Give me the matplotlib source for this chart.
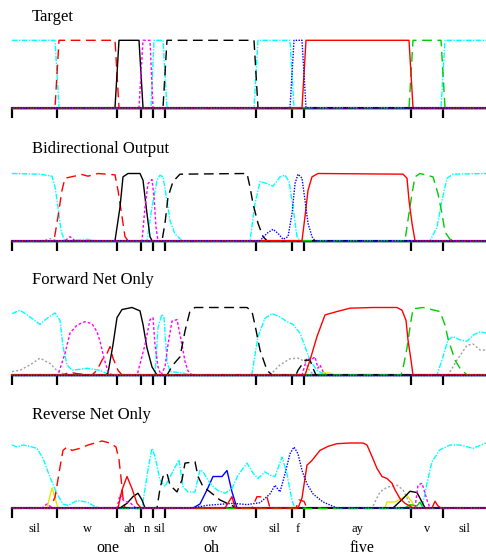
import matplotlib.pyplot as plt

plt.rcParams['font.family'] = ['Liberation Serif', 'DejaVu Serif']

T_END = 474

phone_bounds = [0, 45, 105, 129, 141, 153, 244, 280, 292, 399, 431, 474]
phone_labels = ['sil', 'w', 'ah', 'n', 'sil', 'ow', 'sil', 'f', 'ay', 'v', 'sil']
word_labels = ['one', 'oh', 'five']
word_pos = [96, 199.5, 350]

# knots (frame, activation); anything not listed is 0
# --- target
tgt_sil = [(0, 1), (43, 1), (47, 0), (139, 0), (142, 1), (151, 1), (155, 0),
           (242, 0), (246, 1), (278, 1), (282, 0), (429, 0), (433, 1), (474, 1)]
tgt_w = [(43, 0), (47, 1), (103, 1), (107, 0)]
tgt_ah = [(103, 0), (107, 1), (127, 1), (131, 0)]
tgt_n = [(127, 0), (131, 1), (138, 1), (141, 0)]
tgt_ow = [(151, 0), (155, 1), (242, 1), (246, 0)]
tgt_f = [(278, 0), (282, 1), (290, 1), (294, 0)]
tgt_ay = [(290, 0), (294, 1), (397, 1), (401, 0)]
tgt_v = [(397, 0), (401, 1), (429, 1), (433, 0)]

# --- bidirectional
bi_sil = [(0, 1.0), (28, .99), (40, .96), (43, .8), (46, .5), (49, .15), (52, .02),
          (56, 0), (75, .02), (85, 0), (135, 0), (140, .5), (145, .9), (148, .975),
          (151, .95), (155, .6), (158, .3), (163, .1), (170, 0), (238, 0), (243, .55),
          (248, .88), (255, .85), (261, .81), (268, .95), (273, .975), (277, .88),
          (281, .5), (285, .06), (288, 0), (418, 0), (425, .2), (430, .6), (435, .93),
          (441, .99), (474, 1.0)]
bi_w = [(42, 0), (46, .36), (50, .75), (53, .93), (70, .985), (76, .96), (86, 1.0),
        (103, .98), (106, .75), (110, .36), (113, .06), (116, 0)]
bi_ah = [(103, 0), (108, .5), (111, .95), (116, 1.0), (128, 1.0), (131, .9),
         (135, .4), (138, .06), (140, 0)]
bi_n = [(53, 0), (58, .06), (63, 0), (130, 0), (133, .5), (136, .85), (140, .91),
        (142, .65), (144, .2), (146, 0)]
bi_ow = [(150, 0), (153, .26), (156, .65), (161, .88), (168, .99), (235, 1.0),
         (238, .8), (241, .55), (246, .26), (251, .06), (255, 0)]
bi_f = [(248, 0), (255, .11), (261, .17), (266, .11), (271, .02), (276, .06),
        (280, .4), (283, .85), (286, .99), (290, .93), (293, .6), (296, .26),
        (300, .06), (303, 0)]
bi_ay = [(290, 0), (293, .36), (296, .75), (300, .95), (306, 1.0), (391, .99),
         (395, .93), (397, .6), (400, .26), (403, 0)]
bi_v = [(393, 0), (396, .31), (400, .7), (403, .95), (408, 1.0), (421, .95),
        (426, .7), (430, .4), (433, .13), (438, .02), (445, 0)]
bi_gray = [(30, 0), (38, .03), (45, 0)]

# --- forward net
fw_sil = [(0, .91), (8, .96), (18, .86), (28, .75), (35, .84), (43, .92), (48, .81),
          (51, .42), (55, .15), (60, .07), (75, .1), (88, .07), (95, .02), (100, 0),
          (143, 0), (146, .7), (150, .9), (152, .85), (155, .2), (158, .05), (171, .03),
          (178, 0), (238, 0), (240, .02), (246, .57), (253, .84), (260, .91), (268, .86),
          (275, .79), (281, .75), (288, .62), (293, .42), (298, .22), (305, .07),
          (313, 0), (425, 0), (431, .27), (436, .52), (441, .57), (448, .52),
          (455, .5), (461, .59), (468, .64), (474, .62)]
fw_gray = [(0, .05), (8, .07), (18, .15), (28, .25), (38, .17), (46, .05), (55, 0),
           (258, 0), (268, .15), (278, .24), (286, .25), (293, .2), (298, .05),
           (303, 0), (436, 0), (445, .22), (455, .44), (461, .46), (468, .37),
           (474, .37)]
fw_n = [(46, 0), (53, .32), (58, .62), (65, .74), (73, .79), (80, .76), (85, .64),
        (88, .5), (92, .25), (96, .05), (100, 0), (125, 0), (126, .05), (133, .45),
        (138, .82), (141, .85), (143, .45), (146, .12), (149, 0), (153, .12),
        (156, .45), (160, .8), (165, .82), (170, .45), (173, .2), (176, .06), (180, 0),
        (290, 0), (295, .25), (299, .22), (303, .27), (306, .1), (308, .15),
        (311, .05), (314, 0)]
fw_ah = [(94, 0), (96, .03), (101, .45), (105, .85), (110, .97), (120, 1.0),
         (128, .95), (131, .75), (135, .4), (140, .12), (145, 0)]
fw_w = [(50, 0), (58, .04), (65, .02), (80, 0), (85, .07), (90, .22), (95, .32),
        (98, .42), (101, .25), (106, .07), (110, 0)]
fw_ow = [(155, 0), (161, .15), (168, .27), (173, .65), (178, .95), (183, 1.0),
         (235, 1.0), (240, .94), (243, .74), (248, .37), (255, .07), (260, 0),
         (284, 0), (286, .07), (293, .22), (298, .22), (301, .1), (304, 0)]
fw_ay = [(293, 0), (298, .22), (305, .57), (313, .89), (325, .94), (338, .99),
         (361, 1.0), (385, 1.0), (390, .96), (394, .81), (396, .52), (399, .22),
         (401, 0)]
fw_v = [(389, 0), (391, .1), (395, .4), (398, .71), (401, .98), (411, 1.0),
        (428, .94), (433, .74), (436, .54), (443, .22), (448, .1), (455, 0)]
fw_yellow = [(305, 0), (310, .03), (318, .03), (322, 0)]

# --- reverse net
rv_sil = [(0, .94), (5, .91), (11, .94), (18, .92), (25, .89), (31, .74), (38, .46),
          (45, .21), (51, .06), (56, .04), (65, .11), (75, .09), (83, .02), (88, 0),
          (130, 0), (136, .57), (140, .89), (143, .77), (148, .42), (153, .32),
          (160, .52), (167, .72), (171, .32), (176, .24), (183, .24), (188, .57),
          (191, .54), (198, .37), (205, .27), (213, .22), (220, .29), (226, .49),
          (235, .67), (241, .52), (246, .44), (253, .54), (258, .49), (263, .47),
          (270, .76), (275, .51), (280, .11), (283, 0), (410, 0), (415, .37),
          (420, .69), (428, .87), (438, .94), (448, .94), (461, .89), (474, .97)]
rv_w = [(38, 0), (43, .16), (48, .61), (51, .86), (55, .91), (60, .86), (68, .89),
        (76, .94), (83, .97), (90, 1.0), (98, .97), (104, .91), (107, .72),
        (109, .45), (111, .15), (113, 0), (240, 0), (245, .17), (255, .16), (258, 0),
        (284, 0), (287, .12), (292, .1), (295, 0)]
rv_ay = [(106, 0), (110, .27), (115, .47), (120, .29), (125, .07), (129, 0),
         (213, 0), (220, .17), (223, 0), (286, 0), (290, .15), (295, .64), (300, .71),
         (308, .86), (316, .92), (325, .96), (338, .97), (351, .97), (355, .94),
         (360, .77), (365, .59), (370, .47), (375, .44), (380, .37), (383, .27),
         (388, .14), (393, .07), (401, 0), (420, 0), (423, .1), (426, .03), (429, 0)]
rv_ah = [(108, 0), (115, .07), (121, .17), (126, .22), (130, .12), (133, 0),
         (381, 0), (391, .14), (398, .25), (405, .23), (410, .09), (413, 0)]
rv_ow = [(145, 0), (148, .29), (151, .47), (155, .52), (158, .34), (165, .24),
         (170, .42), (173, .67), (183, .69), (186, .47), (191, .32), (198, .24),
         (208, .12), (218, .05), (225, 0)]
rv_f = [(180, 0), (195, .04), (221, .07), (235, .05), (248, .08), (258, .21),
        (263, .34), (268, .24), (273, .51), (278, .81), (282, .91), (286, .81),
        (290, .56), (295, .36), (301, .21), (311, .09), (325, 0)]
rv_blue = [(181, 0), (188, .06), (195, .27), (201, .47), (210, .47), (215, .56),
           (220, .24), (225, 0)]
rv_gray = [(360, 0), (368, .24), (375, .31), (385, .34), (391, .27), (396, .12),
           (400, 0)]
rv_n = [(30, 0), (35, .06), (40, 0), (105, 0), (108, .2), (112, .1), (118, .08),
        (124, 0), (403, 0), (406, .34), (410, .37), (415, .12), (418, 0)]
rv_yellow = [(35, 0), (38, .18), (40, .3), (43, .15), (46, 0), (373, 0), (375, .09),
             (383, .09), (395, .19), (400, .09), (403, 0)]
rv_green = [(393, 0), (398, .05), (405, .03), (408, .09), (411, 0)]

styles = {
    'gray': dict(color='#a0a0a0', ls=(0, (1.5, 1.5))),
    'yellow': dict(color='#e6e600', ls='-'),
    'green': dict(color='#00cc00', ls='-'),
    'blue': dict(color='#0000ff', ls='-'),
    'sil': dict(color='#00ffff', ls=(0, (4, 1, 1, 1))),
    'w': dict(color='#ff0000', ls=(0, (7, 4))),
    'ah': dict(color='black', ls='-'),
    'n': dict(color='#ff00ff', ls=(0, (2, 1.5))),
    'ow': dict(color='black', ls=(0, (7, 4))),
    'v': dict(color='#00cc00', ls=(0, (7, 4))),
    'ay': dict(color='#ff0000', ls='-'),
    'f': dict(color='#0000ff', ls=(0, (1, 1))),
}

panels = [
    ('Target', 40.3, 107.7, 17,
     {'sil': tgt_sil, 'w': tgt_w, 'ah': tgt_ah, 'n': tgt_n, 'ow': tgt_ow,
      'f': tgt_f, 'ay': tgt_ay, 'v': tgt_v}),
    ('Bidirectional Output', 173.5, 240.7, 149,
     {'sil': bi_sil, 'w': bi_w, 'ah': bi_ah, 'n': bi_n, 'ow': bi_ow, 'f': bi_f,
      'ay': bi_ay, 'v': bi_v, 'gray': bi_gray}),
    ('Forward Net Only', 307.5, 375, 280,
     {'sil': fw_sil, 'w': fw_w, 'ah': fw_ah, 'n': fw_n, 'ow': fw_ow, 'ay': fw_ay,
      'v': fw_v, 'gray': fw_gray, 'yellow': fw_yellow}),
    ('Reverse Net Only', 441, 508, 415,
     {'sil': rv_sil, 'w': rv_w, 'ah': rv_ah, 'n': rv_n, 'ow': rv_ow, 'f': rv_f,
      'ay': rv_ay, 'gray': rv_gray, 'blue': rv_blue, 'yellow': rv_yellow,
      'green': rv_green}),
]

W, H = 486, 557
fig = plt.figure(figsize=(W / 100, H / 100), dpi=100)


def pad(knots):
    # curves sit at zero outside the listed knots
    knots = list(knots)
    if not knots or knots[0][0] > 0:
        knots.insert(0, (0, 0))
    if knots[-1][0] < T_END:
        knots.append((T_END, 0))
    return [k[0] for k in knots], [k[1] for k in knots]


for title, top, base, ty, curves in panels:
    ax = fig.add_axes([12 / W, 1 - base / H, (W - 12) / W, (base - top) / H])
    for name, st in styles.items():
        t, v = pad(curves.get(name, []))
        ax.plot(t, v, color=st['color'], linestyle=st['ls'], lw=1.0, clip_on=False)
    # the zero level is where every output overlaps, so it reads heavier
    ax.axhline(0, color='#5a2a7a', lw=1.6, zorder=0.5, clip_on=False)
    ax.set_xlim(0, T_END)
    ax.set_ylim(0, 1)
    for s in ax.spines.values():
        s.set_visible(False)
    ax.set_yticks([])
    ax.set_xticks(phone_bounds[:-1])
    ax.set_xticklabels([])
    ax.tick_params(axis='x', length=7, width=1.6, direction='out', color='black')
    fig.text(32 / W, 1 - ty / H, title, fontsize=12, va='center', ha='left')

# phone and word labels under the last panel
for i, lab in enumerate(phone_labels):
    mid = (phone_bounds[i] + phone_bounds[i + 1]) / 2
    ax.text(mid, -(529 - 508) / 67, lab, fontsize=9, ha='center', va='center',
            transform=ax.get_xaxis_transform())
for lab, x in zip(word_labels, word_pos):
    ax.text(x, -(548 - 508) / 67, lab, fontsize=11.5, ha='center', va='center',
            transform=ax.get_xaxis_transform())

fig.savefig('out.png', dpi=100)
